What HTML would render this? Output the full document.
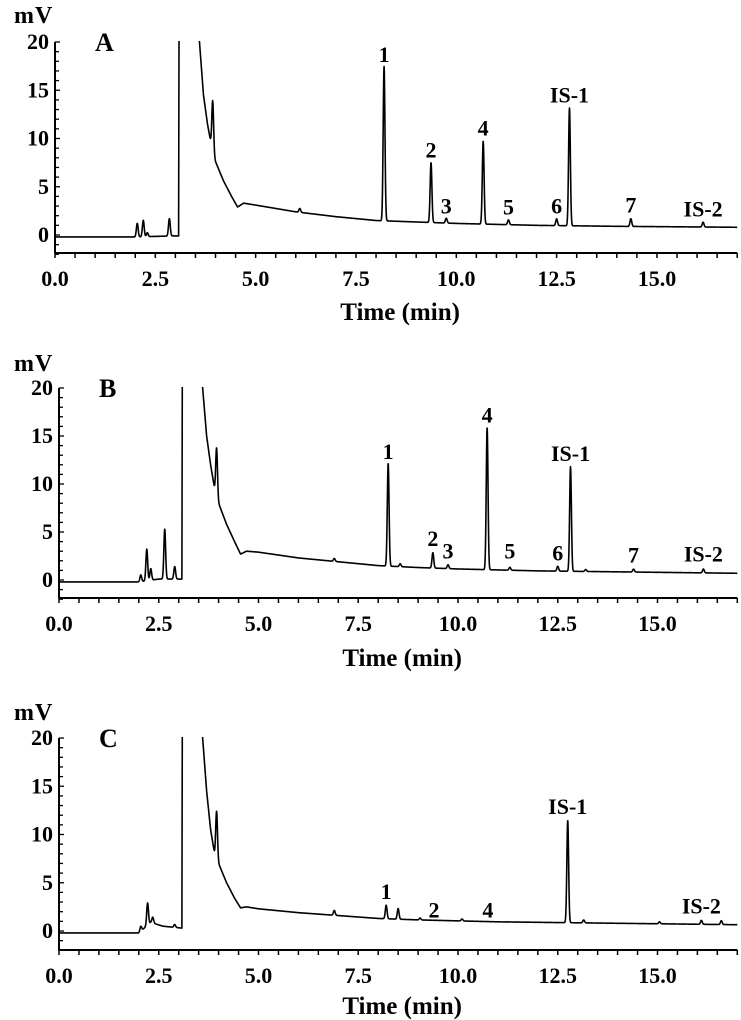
<!DOCTYPE html>
<html><head><meta charset="utf-8"><style>
body{margin:0;background:#fff;}
svg{display:block;font-family:"Liberation Serif",serif;font-weight:bold;}
</style></head><body>
<svg id="chart" width="741" height="1020" viewBox="0 0 741 1020"></svg>
<script>
// ---- data ----
const xTicks = [0, 2.5, 5, 7.5, 10, 12.5, 15];
const xTickLabels = ["0.0","2.5","5.0","7.5","10.0","12.5","15.0"];
const yTicks = [0, 5, 10, 15, 20];
const yTickLabels = ["0","5","10","15","20"];

// Baseline points [time, mV] per panel
const baseA = [[0,-0.2],[2.0,-0.2],[2.9,-0.1],[3.08,-0.1],[3.1,40],[3.55,40],[3.6,20],[3.7,14.5],[3.8,11.5],[3.9,9.2],[4.0,7.6],[4.2,5.6],[4.4,4.0],[4.55,2.9],[4.7,3.3],[5.0,3.1],[6.0,2.4],[7.0,1.9],[8.0,1.5],[9.0,1.35],[10.0,1.2],[11.0,1.1],[12.0,1.0],[14.0,0.9],[17.0,0.8]];
const peaksAt = [2.05,2.2,2.3,2.85,3.93,6.1,8.2,9.37,9.75,10.67,11.3,12.5,12.82,14.35,16.15];
const peaksAh = [1.4,1.7,0.4,1.8,5.2,0.4,16.0,6.2,0.5,8.6,0.5,0.7,12.2,0.8,0.5];
const labelsA = ["1","2","3","4","5","6","IS-1","7","IS-2"];
const labelsAt = [8.2,9.37,9.75,10.67,11.3,12.5,12.82,14.35,16.15];
const labelsAv = [17.4,7.5,1.7,9.8,1.6,1.7,13.2,1.8,1.4];

const baseB = [[0,-0.2],[2.0,-0.2],[2.5,0.1],[3.08,0.1],[3.1,40],[3.55,40],[3.6,20],[3.7,15],[3.8,12],[3.9,9.5],[4.0,8.0],[4.2,5.8],[4.4,4.0],[4.55,2.7],[4.7,3.0],[5.0,2.9],[6.0,2.3],[7.0,1.9],[8.0,1.5],[9.0,1.3],[10.0,1.15],[11.0,1.05],[12.0,0.95],[14.0,0.85],[17.0,0.7]];
const peaksBt = [2.05,2.2,2.3,2.65,2.9,3.95,6.9,8.25,8.55,9.37,9.75,10.73,11.3,12.5,12.82,13.2,14.4,16.15];
const peaksBh = [0.7,3.3,1.2,5.2,1.3,5.0,0.3,10.7,0.3,1.6,0.4,14.8,0.3,0.5,10.9,0.2,0.3,0.4];
const labelsB = ["1","2","3","4","5","6","IS-1","7","IS-2"];
const labelsBt = [8.25,9.37,9.75,10.73,11.3,12.5,12.82,14.4,16.15];
const labelsBv = [12.1,3.0,1.7,15.9,1.7,1.5,11.9,1.3,1.4];

const baseC = [[0,-0.2],[2.0,-0.2],[2.3,0.9],[2.6,0.5],[3.08,0.3],[3.1,40],[3.55,40],[3.6,20],[3.7,14.5],[3.8,10.5],[3.9,8.0],[4.0,7.0],[4.2,5.0],[4.4,3.4],[4.55,2.4],[4.7,2.5],[5.0,2.3],[6.0,1.9],[7.0,1.6],[8.0,1.3],[9.0,1.15],[10.0,1.05],[11.0,0.95],[12.0,0.9],[14.0,0.8],[17.0,0.65]];
const peaksCt = [2.05,2.22,2.35,2.9,3.95,6.9,8.2,8.5,9.05,10.1,12.75,13.15,15.05,16.1,16.6];
const peaksCh = [0.5,2.3,0.6,0.3,4.9,0.5,1.4,1.1,0.2,0.2,10.6,0.3,0.2,0.4,0.4];
const labelsC = ["1","2","4","IS-1","IS-2"];
const labelsCt = [8.2,9.4,10.75,12.75,16.1];
const labelsCv = [2.8,0.9,0.9,11.6,1.3];

const panels = [
  {id:"a", letter:"A", x0:55, pxPerMin:40.13, y0:235, y20:42, axisY:253, base:baseA, pt:peaksAt, ph:peaksAh, lab:labelsA, lt:labelsAt, lv:labelsAv, mvY:15, timeY:312},
  {id:"b", letter:"B", x0:59, pxPerMin:39.9, y0:580, y20:388, axisY:598, base:baseB, pt:peaksBt, ph:peaksBh, lab:labelsB, lt:labelsBt, lv:labelsBv, mvY:363, timeY:658},
  {id:"c", letter:"C", x0:59, pxPerMin:39.9, y0:931, y20:738, axisY:950, base:baseC, pt:peaksCt, ph:peaksCh, lab:labelsC, lt:labelsCt, lv:labelsCv, mvY:712, timeY:1006}
];

const NS = "http://www.w3.org/2000/svg";
const svg = document.getElementById("chart");
function mk(tag, attrs, parent){const e=document.createElementNS(NS,tag);for(const k in attrs)e.setAttribute(k,attrs[k]);(parent||svg).appendChild(e);return e;}

function baseAt(base,t){
  for(let i=0;i<base.length-1;i++){
    if(t>=base[i][0]&&t<=base[i+1][0]){const f=(t-base[i][0])/(base[i+1][0]-base[i][0]);return base[i][1]+f*(base[i+1][1]-base[i][1]);}
  }
  return base[base.length-1][1];
}

panels.forEach(p=>{
  const g = mk("g",{});
  
  
  const sy = (p.y0-p.y20)/20;
  const X = t => p.x0 + t*p.pxPerMin;
  const Y = v => p.y0 - v*sy;
  const xEnd = X(17);
  const cp = mk("clipPath",{id:"clip-"+p.id},g);
  mk("rect",{x:p.x0,y:p.y20-1,width:xEnd-p.x0+2,height:p.axisY-p.y20},cp);
  let d="";
  for(let t=0;t<=17.0001;t+=0.004){
    let v=baseAt(p.base,t);
    for(let i=0;i<p.pt.length;i++){const s=0.022;const dt=(t-p.pt[i])/s;v+=p.ph[i]*Math.exp(-0.5*dt*dt);}
    d+=(d?"L":"M")+X(t).toFixed(2)+","+Y(v).toFixed(2);
  }
  const tr = mk("path",{d:d,fill:"none",stroke:"#000","stroke-width":1.6,"clip-path":"url(#clip-"+p.id+")","stroke-linejoin":"round"},g);
  
  
  const yAx = mk("line",{x1:p.x0,y1:p.y20,x2:p.x0,y2:p.axisY,stroke:"#000","stroke-width":2},g);
  
  
  const xAx = mk("line",{x1:p.x0,y1:p.axisY,x2:xEnd,y2:p.axisY,stroke:"#000","stroke-width":2},g);
  
  
  for(let v=-2;v<=20;v++){mk("line",{x1:p.x0,y1:Y(v),x2:p.x0+(v%5===0?5:4),y2:Y(v),stroke:"#000","stroke-width":1.3},g);}
  for(let t=0;t<=17.0001;t+=0.5){mk("line",{x1:X(t),y1:p.axisY,x2:X(t),y2:p.axisY+5,stroke:"#000","stroke-width":1.5},g);}
  yTicks.forEach((v,i)=>{
    const tx=mk("text",{x:p.x0-6,y:Y(v)+7,"text-anchor":"end","font-size":22},g);tx.textContent=yTickLabels[i];
    
    
  });
  xTicks.forEach((t,i)=>{
    const tx=mk("text",{x:X(t),y:p.axisY+33,"text-anchor":"middle","font-size":22},g);tx.textContent=xTickLabels[i];
    
    
  });
  const mv=mk("text",{x:14,y:p.mvY+8,"font-size":24,"letter-spacing":"1"},g);mv.textContent="mV";
  
  
  const tt=mk("text",{x:(p.x0+xEnd)/2+4,y:p.timeY+8,"text-anchor":"middle","font-size":25},g);tt.textContent="Time (min)";
  
  
  const lt=mk("text",{x:p.x0+40,y:p.y20+9,"font-size":26},g);lt.textContent=p.letter;
  
  
  p.lab.forEach((s,i)=>{
    const tx=mk("text",{x:X(p.lt[i]),y:Y(p.lv[i])-5,"text-anchor":"middle","font-size":22},g);tx.textContent=s;
    
    
  });
});
</script>
</body></html>
